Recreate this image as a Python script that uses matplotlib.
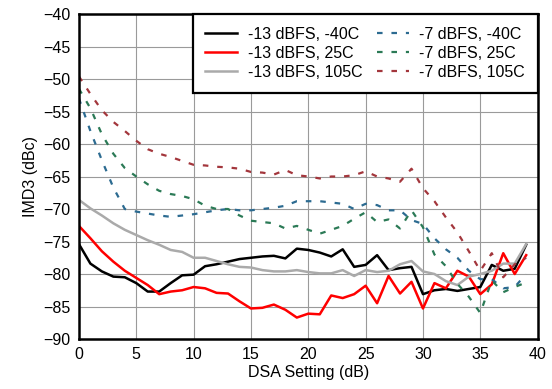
import numpy as np
import matplotlib
matplotlib.use('Agg')
from matplotlib import pyplot as plt

plt.rcParams['font.family'] = ['Liberation Sans', 'DejaVu Sans']
plt.rcParams['font.size'] = 11.5

# DSA setting (dB)
dsa = list(range(40))

# -13 dBFS series (solid)
m13_n40 = [-75.4, -78.4, -79.6, -80.4, -80.5, -81.4, -82.7, -82.7, -81.4, -80.2,
           -80.1, -78.8, -78.5, -78.1, -77.7, -77.5, -77.3, -77.2, -77.6, -76.1,
           -76.3, -76.7, -77.3, -76.2, -78.9, -78.6, -77.1, -79.4, -79.1, -78.9,
           -83.1, -82.5, -82.3, -82.6, -82.3, -82.0, -78.6, -79.5, -79.2, -75.5]
m13_25 = [-72.6, -74.5, -76.5, -78.1, -79.5, -80.6, -81.7, -83.1, -82.7, -82.5,
          -82.0, -82.2, -82.9, -83.0, -84.2, -85.3, -85.2, -84.7, -85.5, -86.7,
          -86.1, -86.2, -83.3, -83.7, -83.1, -81.8, -84.5, -80.3, -83.0, -81.2,
          -85.3, -81.4, -82.2, -79.5, -80.4, -83.1, -81.6, -76.8, -80.0, -77.1]
m13_105 = [-68.6, -69.9, -71.0, -72.2, -73.2, -74.0, -74.8, -75.5, -76.3, -76.6,
           -77.5, -77.5, -78.0, -78.5, -78.9, -79.0, -79.4, -79.6, -79.6, -79.4,
           -79.7, -79.9, -79.9, -79.4, -80.3, -79.4, -79.7, -79.5, -78.5, -78.0,
           -79.6, -80.0, -81.1, -81.7, -80.4, -80.0, -79.5, -78.4, -78.4, -75.4]

# -7 dBFS series (dashed)
m7_n40 = [-53.0, -58.0, -62.5, -66.7, -70.0, -70.4, -70.7, -71.0, -71.2, -71.0,
          -70.8, -70.5, -70.2, -70.0, -70.2, -70.2, -70.0, -69.8, -69.5, -68.8,
          -68.8, -68.8, -69.0, -69.2, -70.0, -69.2, -69.4, -70.2, -70.2, -71.7,
          -72.3, -74.5, -76.2, -77.5, -79.5, -80.8, -80.8, -82.2, -82.0, -80.0]
m7_25 = [-51.5, -54.5, -58.5, -61.5, -63.7, -65.0, -66.2, -67.2, -67.7, -68.0,
         -68.5, -69.5, -70.0, -70.0, -71.0, -71.8, -72.0, -72.2, -73.0, -72.6,
         -73.2, -73.8, -73.2, -72.6, -71.5, -70.5, -72.0, -71.6, -73.0, -70.2,
         -72.8, -77.0, -78.8, -81.5, -83.5, -86.0, -81.0, -82.8, -82.0, -81.3]
m7_105 = [-49.6, -52.3, -54.8, -56.6, -58.0, -59.5, -60.8, -61.5, -62.0, -62.6,
          -63.2, -63.3, -63.5, -63.6, -63.8, -64.3, -64.4, -64.7, -64.0, -64.8,
          -65.0, -65.3, -65.0, -65.0, -64.8, -64.2, -65.0, -65.3, -65.8, -63.8,
          -66.8, -68.8, -71.3, -73.6, -76.5, -79.5, -76.8, -80.5, -78.5, -77.5]

fig = plt.figure(figsize=(5.52, 3.89), dpi=100)
ax = fig.add_axes([0.143, 0.1285, 0.831, 0.8355])

lw = 1.8
ax.plot(dsa, m13_n40, color='black', lw=lw, label='-13 dBFS, -40C')
ax.plot(dsa, m13_25, color='#FF0000', lw=lw, label='-13 dBFS, 25C')
ax.plot(dsa, m13_105, color='#AAAAAA', lw=lw, label='-13 dBFS, 105C')
dash = (0, (2.5, 4))
ax.plot(dsa, m7_n40, color='#2C6B91', lw=1.6, ls=dash, label='-7 dBFS, -40C')
ax.plot(dsa, m7_25, color='#2B7A56', lw=1.6, ls=dash, label='-7 dBFS, 25C')
ax.plot(dsa, m7_105, color='#A3363C', lw=1.6, ls=dash, label='-7 dBFS, 105C')

ax.set_xlim(0, 40)
ax.set_ylim(-90, -40)
ax.set_xticks(np.arange(0, 41, 5))
ax.set_yticks(np.arange(-90, -39, 5))
ax.tick_params(length=0, pad=6)
ax.grid(True, color='#9A9A9A', lw=0.8)
ax.set_axisbelow(True)
for s in ax.spines.values():
    s.set_linewidth(1.8)
    s.set_color('black')

ax.set_xlabel('DSA Setting (dB)', labelpad=2)
ax.set_ylabel('IMD3 (dBc)', labelpad=4)

leg = ax.legend(ncol=2, loc='upper right', bbox_to_anchor=(1, 1), borderaxespad=0,
                fancybox=False, framealpha=1, edgecolor='black', handlelength=2.0,
                labelspacing=0.26, columnspacing=0.9, handletextpad=0.65,
                borderpad=0.8)
leg.get_frame().set_linewidth(1.6)

fig.savefig('out.png', dpi=100)
